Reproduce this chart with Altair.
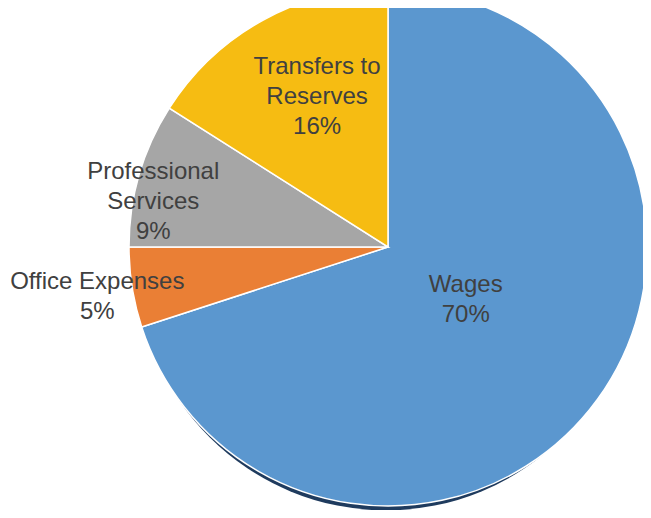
import altair as alt
import pandas as pd

# ---- data ----
categories = ["Wages", "Office Expenses", "Professional Services", "Transfers to Reserves"]
label_text = ["Wages", "Office Expenses", "Professional\nServices", "Transfers to\nReserves"]
shares = [70, 5, 9, 16]
colors = ["#5B97CF", "#EA7F35", "#A6A6A6", "#F6BC12"]

# ---- label layout (best-fit placement, radius in px / small angular nudge in degrees) ----
label_radius = [94, 295, 239, 166]
label_turn = [-1.8, -0.8, -5.4, 3.5]

CX, CY, R = 380, 239, 259
W, H = 635, 502
FONT = "Liberation Sans"
LH = 30

df = pd.DataFrame({
    "category": categories,
    "label": label_text,
    "share": shares,
    "order": list(range(len(categories))),
    "lr": label_radius,
    "turn": label_turn,
})

shadow = alt.Chart(pd.DataFrame({"s": [1]})).mark_arc(
    radius=R - 9.5, color="#1F3B5E"
).encode(
    theta=alt.value(0),
    theta2=alt.value(6.2832),
    x=alt.value(CX - 2),
    y=alt.value(CY + 13.9),
)

pie = alt.Chart(df).mark_arc(radius=R, stroke="white", strokeWidth=1.5).encode(
    theta=alt.Theta("share:Q", stack=True),
    color=alt.Color("category:N", scale=alt.Scale(domain=categories, range=colors), legend=None),
    order=alt.Order("order:Q"),
    x=alt.value(CX),
    y=alt.value(CY),
)

labels = alt.Chart(df).transform_joinaggregate(
    total="sum(share)"
).transform_window(
    cum="sum(share)", sort=[alt.SortField("order")]
).transform_calculate(
    mid="((datum.cum - datum.share/2)/datum.total*360 + datum.turn)*PI/180",
    nl="length(split(datum.label, '\\n')) + 1",
).transform_calculate(
    lx=f"{CX} + datum.lr*sin(datum.mid)",
    ly=f"{CY} - datum.lr*cos(datum.mid) - (datum.nl - 1)*{LH}/2",
    txt="datum.label + '\\n' + datum.share + '%'",
).mark_text(
    font=FONT, fontSize=24, color="#404040", lineBreak="\n", lineHeight=LH,
    align="center", baseline="middle",
).encode(
    x=alt.X("lx:Q", scale=None, axis=None),
    y=alt.Y("ly:Q", scale=None, axis=None),
    text="txt:N",
)

chart = alt.layer(shadow, pie, labels).properties(
    width=W, height=H, padding=0, autosize=alt.AutoSizeParams(type="none")
).configure_view(stroke=None)

chart.save("out.html", embed_options={"renderer": "svg", "actions": False})
